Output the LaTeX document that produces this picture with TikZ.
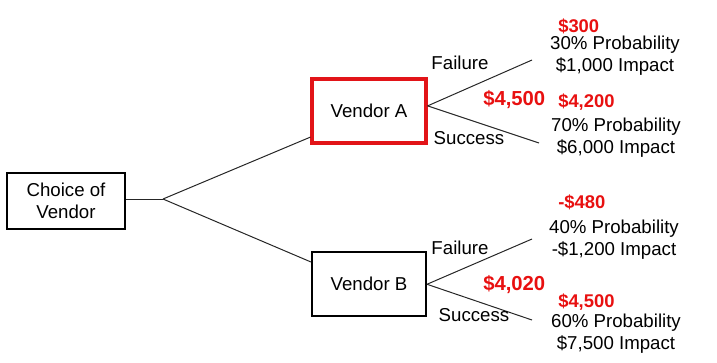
\documentclass[tikz,border=0pt]{standalone}
\usepackage{fontspec}
\setmainfont{Liberation Sans}
\usepackage{tikz}
\usetikzlibrary{positioning}
\definecolor{pickred}{RGB}{226,20,24}
\definecolor{valred}{RGB}{232,16,16}

\begin{document}
\begin{tikzpicture}[x=0.75pt, y=-0.75pt,
  box/.style={rectangle, draw=black, line width=1.5pt, minimum width=85.5pt, minimum height=48pt, align=center, font=\fontsize{14}{16.5}\selectfont},
  pick/.style={box, draw=pickred, line width=2.4pt},
  leaf/.style={inner sep=0pt, align=center, font=\fontsize{14}{16.5}\selectfont},
  lbl/.style={inner sep=0pt, font=\fontsize{14}{16.5}\selectfont},
  val/.style={inner sep=0pt, anchor=west, text=valred, font=\fontsize{13.8}{16}\selectfont\bfseries},
  ev/.style={val, font=\fontsize{15.2}{17}\selectfont\bfseries},
  br/.style={draw=black!85, line width=0.75pt}
]
\useasboundingbox (0,0) rectangle (717,362);
\node[box, minimum width=89pt, minimum height=42pt] (root) at (66,201) {Choice of\\Vendor};
\coordinate (jn) at (163,199);
\node[pick] (va) at (369,111) {Vendor A};
\node[box, below=80pt of va] (vb) {Vendor B};
% outcome ends
\coordinate (fa) at (532,60);
\coordinate (sa) at (539,143);
\coordinate (fb) at (532,239);
\coordinate (sb) at (532,320);
\draw[br] (root.east |- jn) -- (jn);
\draw[br] (jn) -- (va.204);
\draw[br] (jn) -- (vb.159);
\draw[br] (va.5) -- (fa);
\draw[br] (va.5) -- (sa);
\draw[br] (vb.east) -- (fb);
\draw[br] (vb.east) -- (sb);
\node[lbl] (fla) at (460,63) {Failure};
\node[lbl] (sla) at (469,138) {Success};
\node[lbl] (flb) at (460,248) {Failure};
\node[lbl] (slb) at (474,315) {Success};
\node[ev] (eva) at (483,100) {\$4,500};
\node[ev] (evb) at (483,285) {\$4,020};
\node[val] (v1) at (558,26) {\$300};
\node[leaf] (o1) at (615,56) {30\% Probability\\\$1,000 Impact};
\node[val] (v2) at (558,102) {\$4,200};
\node[leaf] (o2) at (616,137.5) {70\% Probability\\\$6,000 Impact};
\node[val] (v3) at (558,202) {-\$480};
\node[leaf] (o3) at (614,239.5) {40\% Probability\\-\$1,200 Impact};
\node[val] (v4) at (558,302) {\$4,500};
\node[leaf] (o4) at (616,333.5) {60\% Probability\\\$7,500 Impact};
\end{tikzpicture}
\end{document}
